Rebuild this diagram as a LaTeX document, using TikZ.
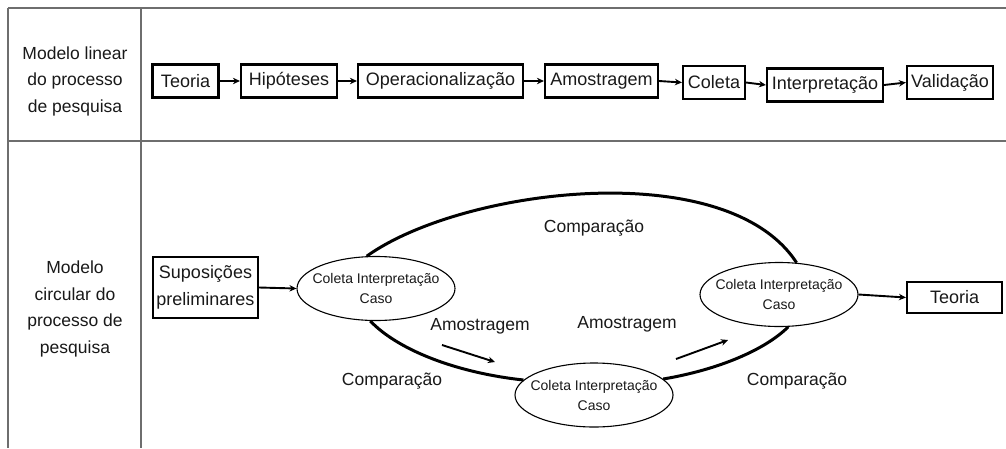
\documentclass[tikz,border=0pt]{standalone}
\usepackage{fontspec}
\setmainfont{Liberation Sans}
\usetikzlibrary{arrows.meta,shapes.geometric}
\definecolor{tablegray}{RGB}{110,110,110}
\definecolor{ink}{RGB}{25,25,25}
\begin{document}
\begin{tikzpicture}[x=1pt,y=-1pt,
  grid/.style={draw=tablegray,line width=2pt},
  rowlabel/.style={align=center,text=ink,font=\fontsize{17.5}{26.5}\selectfont,inner sep=0pt},
  box/.style={draw=black,line width=2.2pt,inner xsep=4pt,inner ysep=0pt,minimum height=33pt,text=ink,font=\fontsize{18}{20}\selectfont},
  stage/.style={draw=black,line width=1.1pt,ellipse,fill=white,align=center,inner xsep=-12pt,inner ysep=0pt,minimum width=158pt,minimum height=64pt,text=ink,font=\fontsize{14}{20}\selectfont},
  arr/.style={-{Stealth[length=7pt,width=6.5pt]},line width=1.9pt,draw=black},
  loopline/.style={line width=3pt,draw=black},
  lab/.style={text=ink,font=\fontsize{17.5}{20}\selectfont,inner sep=0pt}
]
\useasboundingbox (0,0) rectangle (1006,448);
\fill[white] (0,0) rectangle (1006,448);

% table frame
\draw[grid] (8,8) -- (1006,8);
\draw[grid] (8,8) -- (8,448);
\draw[grid] (141,8) -- (141,448);
\draw[grid] (8,141) -- (1006,141);

% row labels
\node[rowlabel] (lin) at (75,81) {Modelo linear\\do processo\\de pesquisa};
\node[rowlabel] (circ) at (75,309) {Modelo\\circular do\\processo de\\pesquisa};

% linear model
\node[box,minimum width=66pt] (t1) at (185.5,81) {Teoria};
\node[box,minimum width=96pt] (t2) at (289,81) {Hipóteses};
\node[box,minimum width=165pt] (t3) at (440.5,81) {Operacionalização};
\node[box,minimum width=113pt] (t4) at (601.5,81) {Amostragem};
\node[box,minimum width=62pt] (t5) at (714,82.5) {Coleta};
\node[box,minimum width=116pt] (t6) at (825,85) {Interpretação};
\node[box,minimum width=86pt] (t7) at (950,82.5) {Validação};
\draw[arr] (t1.east) -- (t2.west);
\draw[arr] (t2.east) -- (t3.west);
\draw[arr] (t3.east) -- (t4.west);
\draw[arr] (t4.east) -- (t5.west);
\draw[arr] (t5.east) -- (t6.west);
\draw[arr] (t6.east) -- (t7.west);

% circular model
\node[box,align=center,inner xsep=3pt,minimum width=105pt,minimum height=61pt,font=\fontsize{18}{27}\selectfont] (sup) at (205.5,287.5) {Suposições\\preliminares};
\node[stage] (e1) at (376,288.5) {Coleta Interpretação\\Caso};
\node[stage] (e2) at (594,395) {Coleta Interpretação\\Caso};
\node[stage] (e3) at (779,294.5) {Coleta Interpretação\\Caso};
\node[box,minimum width=95pt,minimum height=31pt] (teo) at (954.5,297.5) {Teoria};

\draw[arr] (sup.east) -- (e1.west);
\draw[arr] (e3.east) -- (teo.west);

% comparison loop
\draw[loopline] (e1.106) .. controls +(95,-68) and +(-70,-108) .. (e3.61);
\draw[loopline] (e1.260) .. controls +(26.6,28) and +(-69.5,-7.6) .. (e2.168);
\draw[loopline] (e2.13) .. controls +(55.3,-9.4) and +(-23.4,23.1) .. (e3.286);

\node[lab] (cmp1) at (594,228) {Comparação};
\node[lab] (cmp2) at (392,381) {Comparação};
\node[lab] (cmp3) at (797,381) {Comparação};
\node[lab] (am1) at (480,326) {Amostragem};
\node[lab] (am2) at (627,324) {Amostragem};

\coordinate (a1s) at (442,345);
\coordinate (a1e) at (495,362);
\coordinate (a2s) at (676,359);
\coordinate (a2e) at (728,340);
\draw[arr] (a1s) -- (a1e);
\draw[arr] (a2s) -- (a2e);
\end{tikzpicture}
\end{document}
